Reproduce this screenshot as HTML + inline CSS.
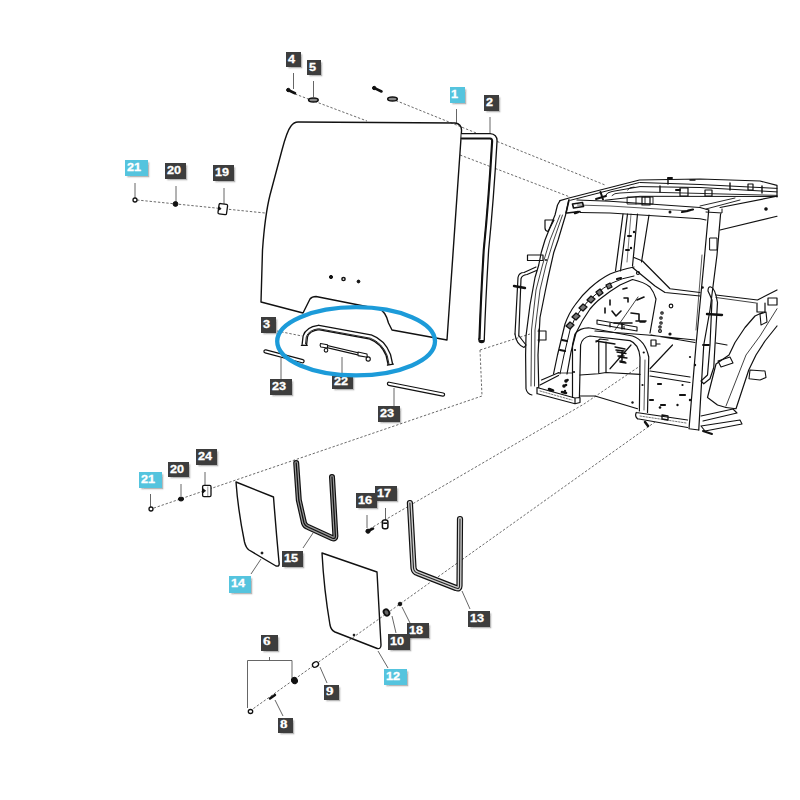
<!DOCTYPE html>
<html><head><meta charset="utf-8">
<style>
html,body{margin:0;padding:0;background:#fff;width:800px;height:800px;overflow:hidden;}
#c{position:absolute;left:0;top:0;width:800px;height:800px;}
.l{position:absolute;background:#3d3d3d;color:#fff;font-family:"Liberation Sans",sans-serif;font-weight:bold;font-size:11px;box-shadow:1.5px 1.5px 1.5px rgba(0,0,0,0.28);}
.l span{position:absolute;left:1.7px;top:2px;-webkit-text-stroke:0.3px #fff;line-height:11px;transform:scaleX(1.15);transform-origin:0 0;white-space:nowrap;}
.b{background:#55c4de;}
.s{font-family:"Liberation Serif",serif;font-size:12.5px;}
.s span{top:0.6px;line-height:12.5px;transform:scaleX(1.2);left:1.8px;}
</style></head><body>
<svg id="c" width="800" height="800" viewBox="0 0 800 800">
<g fill="none" stroke="#5a5a5a" stroke-width="0.9" stroke-dasharray="2.4 1.8">
<path d="M295 94 L367 121"/>
<path d="M392 99 L605 185"/>
<path d="M460 155 L570 197"/>
<path d="M137 200 L265 213"/>
<path d="M277 331 L302 336"/>
<path d="M480 350 L482 396 L151 509"/>
<path d="M480 350 L530 334"/>
<path d="M366 531 L584 404 L640 366"/>
<path d="M250 711 L655 422"/>
</g>
<g fill="none" stroke="#555" stroke-width="0.9">
<!-- leaders -->
<path d="M293.5 73 V89"/>
<path d="M313.5 81 V97"/>
<path d="M456.5 109 V123"/>
<path d="M490 117 V133"/>
<path d="M135 183 V199"/>
<path d="M176 186 V203"/>
<path d="M224 188 V205"/>
<path d="M281 358 V379"/>
<path d="M342 357 V376"/>
<path d="M394 388 V406"/>
<path d="M150.5 494 V507"/>
<path d="M181 484 V496"/>
<path d="M205 472 V486"/>
<path d="M367 515 V528"/>
<path d="M385.5 508 V520"/>
<path d="M251 574 L261 559"/>
<path d="M303 548 L313 533"/>
<path d="M462 591 L470 609"/>
<path d="M392 616 L396 633"/>
<path d="M402 607 L410 623"/>
<path d="M378 651 L388 668"/>
<path d="M320 667 L327 683"/>
<path d="M275 700 L283 716"/>
<path d="M247.5 708 V660.5 H292 V678 M269.5 657 V660.5"/>
</g>
<g fill="none" stroke="#111" stroke-width="1.4" stroke-linejoin="round" stroke-linecap="round">
<!-- glass 1 -->
<path d="M261 302 L262.5 250 Q265 215 270 195 L282 150 Q287 131 291 126 Q294 122 298 122 L455 123 Q462 124 461.5 131 L447 340 L392 330 L388.5 323 Q385.5 311 379 309 L316 296.5 Q312 296.5 310 299 L303 313 Z"/>
<!-- seal 2 -->
<path d="M461.5 136.3 L490 136.3 Q494.6 136.5 494.4 141 Q491 200 486 250 Q483 300 481.6 340" stroke-width="6.6" stroke-linecap="butt"/>
<circle cx="481.6" cy="340" r="3.3" fill="#111" stroke="none"/>
<path d="M461.5 136.3 L490 136.3 Q494.6 136.5 494.4 141 Q491 200 486 250 Q483 300 481.6 340" stroke-width="4" stroke="#fff" stroke-linecap="butt"/>
<path d="M461.5 138.2 L490 138.2 Q492.6 138.4 492.4 141.5 Q489 200 484 250 Q481 300 479.8 339" stroke-width="1.6"/>
<!-- handle 3 -->
<path d="M304.3 345 L305.3 336.5 Q307.5 329 318.6 327.5 L370.5 337 Q383 341.5 388.3 355 L390.4 364.5" stroke-width="5.8" stroke-linecap="butt"/>
<path d="M304.3 345 L305.3 336.5 Q307.5 329 318.6 327.5 L370.5 337 Q383 341.5 388.3 355 L390.4 364.5" stroke-width="3.2" stroke="#fff" stroke-linecap="butt"/>
<path d="M301.3 345.3 L307.3 345.3 M387.4 365.2 L393.4 364.2" stroke-width="1.2"/>
<path d="M305.5 344 L306.3 336.8 Q308.5 330 318.6 328.7 L370.3 338.2 Q382 342.5 387.2 355.5 L389 364" stroke-width="0.9"/>
<!-- part 22 -->
<path d="M327.2 346.6 L358 353.8" stroke-width="3.4" stroke-linecap="butt"/>
<path d="M327.2 346.6 L358 353.8" stroke-width="1" stroke="#fff" stroke-linecap="butt"/>
<path d="M320.5 343.5 L327.5 344.8 L327.5 348 L320.8 347 Q319.5 345 320.5 343.5 Z" fill="#fff" stroke-width="1.1"/>
<path d="M358 352 L367 354 L367.3 357.2 L358 355.6 Z" fill="#fff" stroke-width="1.1"/>
<circle cx="326" cy="350.3" r="1.8" fill="#fff" stroke-width="1.1"/><circle cx="368.2" cy="359" r="2.1" fill="#fff" stroke-width="1.1"/>
<!-- rods 23 -->
<path d="M265.5 351.4 L302.5 361.2 M389 383.8 L443 394.6" stroke-width="4.4"/>
<path d="M265.5 351.4 L302.5 361.2 M389 383.8 L443 394.6" stroke-width="2" stroke="#fff"/>
<!-- glass 14 -->
<path d="M236 482 L273.5 497 Q276 530 279 562 Q280 567 276 566 L249 550 Q246 548 244.5 542 Q238 510 236 482 Z"/>
<!-- glass 12 -->
<path d="M322 553 L377 572 Q379 610 381 645 Q381 650 376 648 L335 632 Q331 630 330 625 Q324 590 322 553 Z"/>
<!-- seal 15 -->
<path d="M296.2 463 L298.8 500 L304 523 Q305 526 308 527 L332 538 Q335.5 539.5 335.4 536 L332 477" stroke-width="6"/>
<path d="M296.2 463 L298.8 500 L304 523 Q305 526 308 527 L332 538 Q335.5 539.5 335.4 536 L332 477" stroke-width="3.6" stroke="#9a9a9a"/>
<path d="M296.2 463 L298.8 500 L304 523 Q305 526 308 527 L332 538 Q335.5 539.5 335.4 536 L332 477" stroke-width="1.3"/>
<!-- seal 13 -->
<path d="M409.9 503 L413.5 568 Q414 572 417.5 573 L456 588 Q459.5 589.5 459.5 586 L460 519" stroke-width="6.2"/>
<path d="M409.9 503 L413.5 568 Q414 572 417.5 573 L456 588 Q459.5 589.5 459.5 586 L460 519" stroke-width="3.8" stroke="#d0d0d0"/>
<path d="M409.9 503 L413.5 568 Q414 572 417.5 573 L456 588 Q459.5 589.5 459.5 586 L460 519" stroke-width="1.1" stroke="#222"/>
</g>
<!-- small parts -->
<g fill="#111" stroke="#111" stroke-width="1">
<path d="M288 90 L295 93.2" stroke-width="2.6" stroke-linecap="round"/><circle cx="288.3" cy="90" r="1.7"/>
<ellipse cx="313.4" cy="100" rx="4.8" ry="2" fill="#888" stroke-width="1.5"/>
<path d="M374 87.8 L381.5 91.5" stroke-width="2.6" stroke-linecap="round"/><circle cx="374.2" cy="88" r="1.7"/>
<ellipse cx="392.5" cy="99" rx="4.8" ry="2" fill="#888" stroke-width="1.5"/>
<circle cx="135" cy="200" r="2" fill="#fff" stroke-width="1.3"/>
<circle cx="175.5" cy="204" r="2.4"/>
<g transform="rotate(8 222.8 209.1)"><rect x="218.5" y="203.9" width="8.6" height="10.4" rx="1.3" fill="#fff" stroke-width="1.3"/><path d="M218.8 207.3 L221 209 L218.8 210.8 Z" stroke-width="0.8"/></g>
<circle cx="151" cy="509" r="2" fill="#fff" stroke-width="1.3"/>
<ellipse cx="181" cy="499" rx="2.6" ry="2"/>
<rect x="202.6" y="485.4" width="8.4" height="11.2" rx="1.3" fill="#fff" stroke-width="1.3"/><path d="M203 488.8 L205.6 490.8 L203 492.8 Z" stroke-width="0.8"/><path d="M207.8 486.5 V496" stroke="#999" stroke-width="1"/>
<path d="M368 531 L373 528.6" stroke-width="2.6" stroke-linecap="round"/><circle cx="368" cy="531.2" r="2.1"/>
<rect x="382.4" y="519.9" width="5.5" height="8.8" rx="2" fill="#fff" stroke-width="1.5"/><path d="M383.2 523.2 h4" stroke-width="1.6"/>
<ellipse cx="386.5" cy="612.5" rx="2.6" ry="3.3" fill="#666" stroke-width="1.8" transform="rotate(-35 386.5 612.5)"/>
<circle cx="400" cy="604" r="1.8"/>
<circle cx="262" cy="553" r="1"/>
<circle cx="354" cy="635" r="0.9"/>
<ellipse cx="250.5" cy="711.5" rx="2.2" ry="2" fill="#fff" stroke-width="1.3"/>
<ellipse cx="294.5" cy="680.5" rx="2.8" ry="3.2" transform="rotate(-30 294.5 680.5)"/>
<path d="M270 698.5 L275 695" stroke-width="2.4" stroke-linecap="round"/>
<ellipse cx="315.5" cy="664.5" rx="3.2" ry="2.5" fill="#fff" stroke-width="1.3" transform="rotate(-30 315.5 664.5)"/>
<circle cx="331" cy="277" r="1.6"/>
<circle cx="343.5" cy="279" r="1.6" fill="#fff" stroke-width="1.5"/>
<circle cx="358.5" cy="281.5" r="1.4"/>
</g>
<!-- CAB -->
<g id="cab" fill="none" stroke="#111" stroke-width="1.2" stroke-linejoin="round" stroke-linecap="round">
<!-- roof -->
<path d="M560 200.6 L569 198 L639.5 180 L700 179 L760 181 L777 185.3 L777 197"/>
<path d="M570.5 200.25 L639.5 182.5 L700 184.5 L777 188.4" stroke-width="1"/>
<path d="M605 196 Q607 192 612 191.5 L640 186.6 L700 187.5 L777 191.9" stroke-width="1"/>
<path d="M627.5 190 Q629 187 634 187 M612 195.5 Q614 193 620 193 L640 191.9 L777 195.4" stroke-width="0.9"/>
<path d="M605 200.25 L640 196.3 L777 196.5" stroke-width="1"/>
<path d="M700 206 L735 198 M706 209 L740 200" stroke-width="0.9"/>
<path d="M680 188 h8 v8 h-8 Z M705 190 h7 v6 h-7 Z M748 184 h5 v6 h-5 Z M642 197 h8 v8 h-8 Z" stroke-width="1.2"/>
<path d="M668 178.5 V184 M660 186 V192 M730 183 V190 M762 186 V193 M690 180 l5 0" stroke-width="1.4"/>
<path d="M627.5 197 H653 V204 H627.5 Z M636 197 V204 M645 197 V204" stroke-width="0.9"/>
<path d="M600.5 192 L603 199.5 M596 199 L606 196 M676 190 l4 0 M668 178 l4 0" stroke-width="2"/>
<!-- header beam -->
<path d="M577 200 L610 201.25 L700 207.5 L708.75 210"/>
<path d="M580 212.5 L610 213 L700 218.75 L706 220"/>
<path d="M577.5 205 L610 206 L690 211" stroke-width="0.7"/>
<path d="M569 200 L566 213 M572.5 204 L582.5 202.5 L583.5 206.5 L573.5 208 Z M567 213 L580 211.5" stroke-width="1.6"/><path d="M575 213 l3 -1" stroke-width="2.5"/>
<path d="M682 212 l6 -1 M688 210.5 l5 -1" stroke-width="2.2"/>
<circle cx="670" cy="212" r="0.9" fill="#111"/>
<!-- left front pillar -->
<path d="M560 200.6 L557.5 205 L555 215 L550 227.5 L545 240 L541.25 252.5 L538.75 265 L535 277.5 L530 305 L526 336 L525.6 355 L526 388.75 Q527 394 532 395"/>
<path d="M568.75 200 L565.6 215 L558.1 240 L553.75 252.5 L548.1 277.5 L545 292.5 L540 317.5 L538 355 L538.75 387.5"/>
<path d="M560 215 L550 240 L542.5 265 L536 290 L531.5 330 L531 386" stroke-width="0.8"/>
<path d="M562.5 215 L553.75 240 L546 265 L540 290 L535 330 L534.5 386" stroke-width="0.8"/>
<!-- left handle -->
<path d="M515 334 L518 277.5 Q519 272.5 524 272.5 L536 267"/>
<path d="M518.75 336 L521 278.75 Q522 275 527 274.5 L536.5 270.5"/>
<path d="M515 334 Q516 344 524 347.5 L526 345 L519 336"/>
<path d="M514 286 L525 288" stroke-width="2.4"/>
<!-- brackets -->
<path d="M545 220 H554 L548 231.5 Q545 231 545 228 Z"/>
<path d="M527.5 255 H543 V260.5 H527.5 Z"/>
<path d="M538 331 H546 V340 H538 M539 329 V342" stroke-width="1.1"/>
<!-- rear left pillars -->
<path d="M623 214 L615.5 271 M627.5 214 L620.5 271 M637.5 214 L632.5 266 M649 215 L641.5 262"/>
<path d="M631 214 L627 262" stroke-width="0.6"/>
<path d="M628 236 l3 0 M626 250 l3 0" stroke-width="2"/>
<!-- diagonal beam & rail -->
<path d="M634 257.5 L642.5 261 L670 288.75 L700 292.5"/>
<path d="M632.5 267.5 L655 286 L665 292.5 L700 296"/>
<path d="M716 295 L757.5 300 L777 290"/>
<path d="M716 297.5 L756 303" stroke-width="0.8"/>
<circle cx="638" cy="273" r="1.5"/>
<!-- wheel arch -->
<path d="M553.5 374 L557.5 355 L565 324 Q569 313 575 305 Q582 295 590 288 Q600 279 610 274 Q620 270 634 267"/>
<path d="M560 374 L564 355 L570 330 Q574 318 580 311 Q587 301 595 295 Q604 287 612 283 Q622 278 634 276" stroke-width="1"/>
<path d="M567 374 L571 352 L576 333 Q582 320 590 309 Q596 302 600 299 Q610 291 620 285 L632.5 279.5 Q644 282 650 287 Q654 292 656 299 L650 333"/>
<path d="M566 326 l4 -4 l4 3 l-4 4 Z M572 317 l4 -4 l4 3 l-4 4 Z M579 308 l4 -4 l4 3 l-4 4 Z M587 300 l4 -4 l4 3 l-4 4 Z M596 292 l4 -3 l3 4 l-4 3 Z M606 285 l4 -2 l2 4 l-4 2 Z" stroke-width="1.3" fill="#777"/><path d="M562 340 l5 1 M560 350 l5 1 M617 279 l4 -1" stroke-width="2.2"/>
<!-- seat frame -->
<path d="M572.5 397.5 L572.5 345 L575 334 Q580 327.5 590 328 L632.5 336 Q645 340 648.75 357 L647.5 412.5"/>
<path d="M579.4 397.5 L580.6 345 Q582 337.5 590 336 L630 340.6 Q639 344 640 357.5 L639.4 411"/>
<path d="M645 360 L644 410" stroke-width="0.7"/>
<!-- front bottom beam -->
<path d="M537 387.5 L575 398 L580 397.5 M537.5 393.75 L575 403.75 L580 402.5 M575 398 V403.75 M580 397.5 V402.5 M537 387.5 V393.75"/>
<path d="M540 391 L572 400" stroke-width="0.6" stroke-dasharray="1.5 1.5"/>
<path d="M549 389 l4 1.5 M562 392 l4 1" stroke-width="2.6"/>
<!-- diag brace -->
<path d="M540 385 L558.5 375.5 M541.5 380 L559 372.5"/>
<path d="M558 373 L572.5 373" stroke-width="0.8"/>
<circle cx="566" cy="381" r="1.2" fill="#111"/><circle cx="564" cy="386" r="1.2" fill="#111"/>
<!-- rear bottom beam -->
<path d="M636.25 412.5 L687.5 420 M637.5 418.75 L687.5 427.5 M636.25 412.5 Q634.5 416 637.5 418.75"/>
<path d="M640 416 L686 423" stroke-width="0.6" stroke-dasharray="1.5 1.5"/>
<path d="M662 415 l6 1 l0 4 l-6 -1 Z" stroke-width="1.3"/>
<path d="M645 422 l3 4" stroke-width="2.5"/>
<!-- floor -->
<path d="M580 375 L598 373.75 L606 372.5 L640 374.4"/>
<path d="M610 368.75 L631 345 M650 368.75 L672.5 345"/>
<path d="M650 371 L690 377 M650 376 L690 382.5"/>
<path d="M580 396 L595 396 L637.5 408.75"/>
<path d="M595 331 L647.5 335 L695 340 M651 335 L695 342.5 M716 343 L727 345"/>
<path d="M598.75 342 V372.5 M606 342 V372 M596 342 L600 339 L608 340"/>
<path d="M658 384 l3 0 M680 395 l5 0 M661 405 l4 0 M650 400 l3 0" stroke-width="2.2"/>
<!-- wheelhouse marks -->
<path d="M623 289 l4 -1 M610 300 l0 5 M624 298 l4 0 l0 4 M612 311 l4 5 l5 -5 M605 308 l0 5 M631 313 l8 1 l0 6 M637 300 l7 -3 M636 321 l10 0 M622 323 l0 6 M614 323 h18 M640 322 l5 0" stroke-width="1.6"/>
<path d="M615 330 L638 297" stroke-width="0.8"/>
<circle cx="671" cy="306" r="1.8"/>
<circle cx="662" cy="313" r="1.2"/><circle cx="661" cy="318" r="1.2"/><circle cx="661" cy="323" r="1.2"/><circle cx="660" cy="327" r="1.2"/><circle cx="660" cy="331" r="1.4"/>
<path d="M651 340 l5 0 l0 6 l-5 0 Z M656 344 l4 0" stroke-width="1.2"/>
<path d="M616 350 l8 1 M618 356 l6 0 M620 361 l5 1 M622 352 l0 8" stroke-width="1.5"/>
<circle cx="670" cy="334" r="1" fill="#111"/>
<!-- extra details -->
<g fill="#111" stroke="none">
<circle cx="702.5" cy="287.5" r="1.3"/><circle cx="695" cy="365" r="1.2"/><circle cx="690" cy="357" r="1.1"/>
<circle cx="567.5" cy="380" r="1.3"/><circle cx="566" cy="385" r="1.3"/><circle cx="550" cy="390" r="1.4"/><circle cx="565" cy="391" r="1.2"/>
<circle cx="682.5" cy="385" r="1.1"/><circle cx="690" cy="400" r="1.2"/><circle cx="660" cy="407.5" r="1.3"/><circle cx="677.5" cy="405" r="1.2"/><circle cx="632.5" cy="402.5" r="1.2"/>
<circle cx="575" cy="350" r="1.1"/><circle cx="643.75" cy="352.5" r="1.1"/><circle cx="642.5" cy="385" r="1.1"/><circle cx="574" cy="372" r="1.1"/>
<circle cx="634" cy="232" r="1.2"/><circle cx="631" cy="248" r="1.2"/><circle cx="546" cy="260" r="1"/>
</g>
<path d="M597 320 L637 327 L637 331 L597 324 Z M610 322 V327 M624 324 V329" stroke-width="1.1"/>
<path d="M596 341 L615 344 M615 347 l10 2 M617 352 l9 1.5 M619 357 l8 1 M620 362 l6 1" stroke-width="1.3"/>
<!-- right front pillar -->
<path d="M708.75 210 L703.75 265 L696 345 L689 428.75 L698.75 430"/>
<path d="M720.6 213.75 L717 255 L710 310 L703.75 345 L698.75 430"/>
<path d="M706 212 L722 213 L722 209" stroke-width="1"/>
<path d="M710 238 h7 v12 h-7 Z" stroke-width="1"/>
<path d="M702 255 L696 330" stroke-width="0.7"/>
<!-- right handle -->
<path d="M708 291 Q708 286 711 287 Q715 288 717.5 302.5 L715 345 L713.75 367.5 L710 378.75 L703.75 383.75 L701 381 L707.5 375 L710 345 L712 300 Q710 295 708 291 Z"/>
<path d="M707 314 l15 1" stroke-width="2.4"/>
<path d="M703 345 l6 0" stroke-width="1.8"/>
<!-- right roof side -->
<path d="M720 207.5 L777 196.25 M720 230 L777 216.25"/>
<circle cx="766" cy="209" r="1.2" fill="#111"/>
<!-- fender -->
<path d="M762.5 312.5 L755 316 L745 327.5 L735 342.5 L729 355 L716 364 L707.5 397.5 L717.5 405 L726 407.5"/>
<path d="M777 308.75 L760 336 L746 355 L726 406" stroke-width="0.8"/>
<path d="M777 326 L765 341 L756 355 L748.75 370 L736 408.75 L726 407.5"/>
<path d="M757 303 V312 H765 V303 M768 298 h9 v7 h-9 Z" stroke-width="1.2"/>
<path d="M760 314 l6 -2 l1 10 l-6 3 Z" stroke-width="1.1"/><path d="M718 361 l12 -4 l3 6 l-12 4 Z" stroke-width="1.1"/>
<!-- steps -->
<path d="M701 416 L733 409 L737 413 L703 421 M701 426 L740 420 L742 424 L705 431 Z" stroke-width="1.1"/>
<path d="M750 370 L765 371 L766 377.5 L760 380 L749 378.75 Z" stroke-width="1.1"/>
<path d="M703 431 L712 434" stroke-width="2"/>
</g>
</svg>
<div class="l" style="left:286.3px;top:51.6px;width:14.7px;height:15.1px;"><span>4</span></div>
<div class="l" style="left:307px;top:59.5px;width:14.4px;height:15.5px;"><span>5</span></div>
<div class="l b" style="left:449.5px;top:87px;width:15.5px;height:16px;"><span>1</span></div>
<div class="l" style="left:484px;top:95px;width:15px;height:15.5px;"><span>2</span></div>
<div class="l b" style="left:125.25px;top:160.25px;width:22.5px;height:15.5px;"><span>21</span></div>
<div class="l" style="left:165px;top:163.1px;width:21.1px;height:15.7px;"><span>20</span></div>
<div class="l" style="left:213px;top:165.2px;width:21px;height:15.6px;"><span>19</span></div>
<div class="l" style="left:261.3px;top:317px;width:15px;height:15.5px;"><span>3</span></div>
<div class="l" style="left:332px;top:373.5px;width:21px;height:15.5px;"><span>22</span></div>
<div class="l" style="left:270.25px;top:379px;width:21.75px;height:15.75px;"><span>23</span></div>
<div class="l" style="left:378px;top:405.5px;width:22px;height:16px;"><span>23</span></div>
<div class="l" style="left:196px;top:449px;width:21.25px;height:15.75px;"><span>24</span></div>
<div class="l" style="left:168px;top:462px;width:21.4px;height:15.2px;"><span>20</span></div>
<div class="l b" style="left:139.4px;top:471.9px;width:22.5px;height:16.1px;"><span>21</span></div>
<div class="l" style="left:355.9px;top:493.1px;width:21px;height:15.3px;"><span>16</span></div>
<div class="l" style="left:375.3px;top:485.9px;width:21.3px;height:15.4px;"><span>17</span></div>
<div class="l" style="left:282px;top:551px;width:21px;height:16px;"><span>15</span></div>
<div class="l b" style="left:229.4px;top:576px;width:22.1px;height:16.7px;"><span>14</span></div>
<div class="l" style="left:468.25px;top:611px;width:21.75px;height:15.5px;"><span>13</span></div>
<div class="l" style="left:407.2px;top:623.4px;width:21.5px;height:15px;"><span>18</span></div>
<div class="l" style="left:388.4px;top:634.2px;width:21.6px;height:15.5px;"><span>10</span></div>
<div class="l s" style="left:261.25px;top:634.75px;width:16.25px;height:16px;"><span>6</span></div>
<div class="l b" style="left:384.2px;top:669.4px;width:22.5px;height:15.9px;"><span>12</span></div>
<div class="l s" style="left:324.2px;top:684.5px;width:14.55px;height:15px;"><span>9</span></div>
<div class="l s" style="left:278.3px;top:717.5px;width:14.4px;height:15px;"><span>8</span></div>
<svg style="position:absolute;left:0;top:0" width="800" height="800" viewBox="0 0 800 800"><ellipse cx="356.1" cy="341.3" rx="78.9" ry="34.15" fill="none" stroke="#1c9bd9" stroke-width="4.3"/></svg>
</body></html>
